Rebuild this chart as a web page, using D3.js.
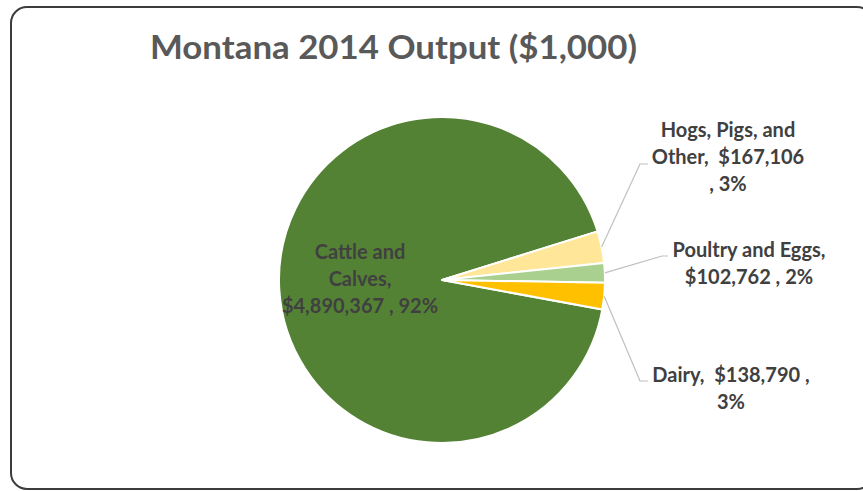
<!DOCTYPE html>
<html>
<head>
<meta charset="utf-8">
<script src="https://cdn.jsdelivr.net/npm/d3@7"></script>
<style>
  html, body { margin: 0; padding: 0; background: #fff; }
  svg { display: block; }
  text { font-family: Lato, "Open Sans", sans-serif; font-weight: bold; white-space: pre; }
</style>
</head>
<body>
<svg id="chart" width="863" height="491"></svg>
<script>
// Montana 2014 livestock output, thousands of dollars
const categories = ["Cattle and Calves", "Hogs, Pigs, and Other", "Poultry and Eggs", "Dairy"];
const values = [4890367, 167106, 102762, 138790];
const percents = ["92%", "3%", "2%", "3%"];
const colors = ["#548235", "#FFE699", "#A9D08E", "#FFC000"];
const labelLines = [
  ["Cattle and", "Calves,", "$4,890,367 , 92%"],
  ["Hogs, Pigs, and", "Other,  $167,106", ", 3%"],
  ["Poultry and Eggs,", "$102,762 , 2%"],
  ["Dairy,  $138,790 ,", "3%"]
];
const title = "Montana 2014 Output ($1,000)";

const width = 863, height = 491;
const cx = 442, cy = 280, radius = 163;
// first slice begins a little past 3 o'clock, running clockwise
const startDeg = 100.4;

const svg = d3.select("#chart");

// chart frame
svg.append("rect")
  .attr("x", 11).attr("y", 7)
  .attr("width", 862).attr("height", 482)
  .attr("rx", 16).attr("ry", 16)
  .attr("fill", "#fff")
  .attr("stroke", "#3c3c3c")
  .attr("stroke-width", 2);

svg.append("text")
  .attr("x", 150).attr("y", 59)
  .attr("font-size", 32)
  .attr("fill", "#595959")
  .attr("textLength", 487)
  .attr("lengthAdjust", "spacingAndGlyphs")
  .text(title);

const data = categories.map((c, i) => ({ name: c, value: values[i], color: colors[i], lines: labelLines[i] }));

const start = startDeg * Math.PI / 180;
const pie = d3.pie().sort(null).value(d => d.value)
  .startAngle(start).endAngle(start + 2 * Math.PI);
const arcs = pie(data);
const arc = d3.arc().innerRadius(0).outerRadius(radius);

const g = svg.append("g").attr("transform", `translate(${cx},${cy})`);
g.selectAll("path.slice")
  .data(arcs)
  .join("path")
  .attr("class", "slice")
  .attr("d", arc)
  .attr("fill", d => d.data.color)
  .attr("stroke", "#fff")
  .attr("stroke-width", 2)
  .attr("stroke-linejoin", "round");

// label layout: text centre, first baseline, and leader elbow
const layout = [
  { x: 360, y: 259, elbow: null },
  { x: 728, y: 137, elbow: [[640, 164], [648, 164]] },
  { x: 749, y: 257, elbow: [[662, 256], [668, 256]] },
  { x: 731, y: 382, elbow: [[640, 381], [648, 381]] }
];
const lineGap = 27;

arcs.forEach((a, i) => {
  const L = layout[i];
  if (L.elbow) {
    const mid = (a.startAngle + a.endAngle) / 2;
    const p0 = [cx + radius * Math.sin(mid), cy - radius * Math.cos(mid)];
    svg.append("path")
      .attr("d", d3.line()([p0, ...L.elbow]))
      .attr("fill", "none")
      .attr("stroke", "#bfbfbf")
      .attr("stroke-width", 1.2);
  }
  const t = svg.append("text")
    .attr("text-anchor", "middle")
    .attr("font-size", 20)
    .attr("fill", "#404040");
  a.data.lines.forEach((ln, k) => {
    t.append("tspan")
      .attr("x", L.x)
      .attr("y", L.y + k * lineGap)
      .text(ln);
  });
});
</script>
</body>
</html>
